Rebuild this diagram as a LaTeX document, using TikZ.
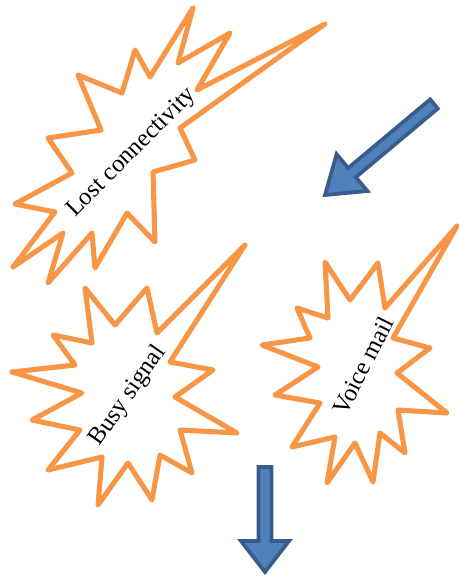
\documentclass[tikz,border=0pt]{standalone}
\usepackage{fontspec}
\setmainfont{Liberation Serif}
\usepackage{tikz}
\definecolor{portocaliu}{HTML}{F79646}
\definecolor{albastru}{HTML}{4F81BD}
\definecolor{albastruinchis}{HTML}{385D8A}
\tikzset{
  stea/.style       = {draw=portocaliu, fill=white, line width=3.8pt, line join=round},
  textstea/.style   = {font=\fontsize{18.5}{21}\selectfont, inner sep=0pt},
  sageatabloc/.style = {draw=albastruinchis, fill=albastru, line width=2.8pt, line join=miter}
}
\begin{document}
\begin{tikzpicture}[x=0.75pt, y=-0.75pt]
        \useasboundingbox (0,0) rectangle (459,576);

        \draw[stea] (193,8) -- (178,63) -- (230,33) -- (197,90) -- (325,24) -- (180,128) -- (195,160)
            -- (153,172) -- (155,242) -- (127,213) -- (95,268) -- (92,233) -- (48,283) -- (63,233)
            -- (13,267) -- (55,212) -- (15,204) -- (72,173) -- (48,138) -- (101,130) -- (78,75)
            -- (122,93) -- (135,50) -- (150,77) -- cycle;
        \draw[stea] (245,245) -- (170,362) -- (213,370) -- (175,397) -- (237,433) -- (180,430)
            -- (192,473) -- (160,455) -- (152,500) -- (128,463) -- (98,505) -- (102,457) -- (48,470)
            -- (80,430) -- (32,420) -- (82,393) -- (12,372) -- (75,365) -- (53,335) -- (92,343)
            -- (85,288) -- (115,325) -- (147,288) -- (157,333) -- cycle;
        \draw[stea] (457,226) -- (393,338) -- (430,348) -- (397,373) -- (447,413) -- (398,410)
            -- (405,453) -- (380,433) -- (373,482) -- (355,443) -- (327,483) -- (335,437) -- (292,447)
            -- (320,403) -- (275,395) -- (318,367) -- (262,345) -- (310,338) -- (297,308) -- (328,318)
            -- (325,262) -- (350,300) -- (378,263) -- (385,308) -- cycle;

        \node[textstea, rotate=45] (pierdut) at (132,153) {Lost connectivity};
        \node[textstea, rotate=55] (ocupat) at (128,396) {Busy signal};
        \node[textstea, rotate=63] (mesagerie) at (363,366) {Voice mail};

        \draw[sageatabloc] (430.2,99.4) -- (348.2,168) -- (336.6,154.2) -- (325,195) -- (367.4,191)
            -- (355.8,177.2) -- (437.8,108.6) -- cycle;
        \draw[sageatabloc] (258.5,467) -- (258.5,541) -- (241,541) -- (265,572) -- (289,541)
            -- (271.5,541) -- (271.5,467) -- cycle;
    \end{tikzpicture}
\end{document}
